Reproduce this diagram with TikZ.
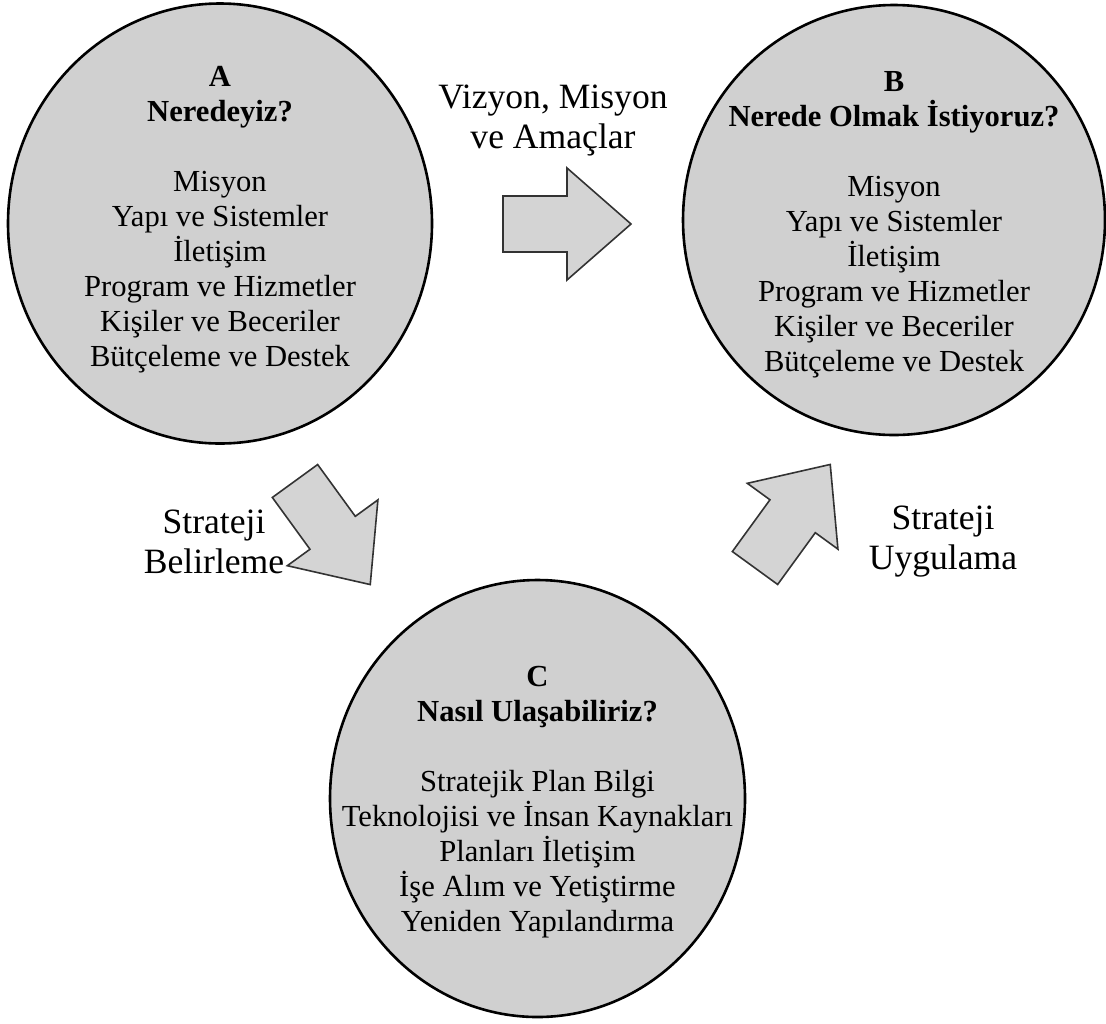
\documentclass[tikz,border=0pt]{standalone}
\usepackage{fontspec}
\setmainfont{Liberation Serif}
\usetikzlibrary{shapes.geometric}

\definecolor{discfill}{gray}{0.815}
\definecolor{arrowfill}{gray}{0.83}

\tikzset{
  disc/.style={ellipse, draw=black, line width=1.3pt, fill=discfill, inner sep=0pt},
  disctext/.style={align=center, inner sep=0pt, font={\fontsize{15.3pt}{17.5pt}\selectfont}},
  steplabel/.style={align=center, inner sep=0pt, font={\fontsize{17.8pt}{20pt}\selectfont}},
  arrowbody/.style={draw=black!80, line width=0.8pt, fill=arrowfill, line join=miter},
  blockarrow/.pic={
    \draw[arrowbody] (0,28) -- (64,28) -- (64,56) -- (128,0) -- (64,-56) -- (64,-28) -- (0,-28) -- cycle;
  }
}

\begin{document}
\begin{tikzpicture}[x=0.5pt, y=-0.5pt]
  \useasboundingbox (0,0) rectangle (1106,1023);

  % the three stages
  \node[disc, minimum width=212pt, minimum height=220pt] (A) at (220,223.5) {};
  \node[disc, minimum width=211pt, minimum height=215pt] (B) at (894,220) {};
  \node[disc, minimum width=207.5pt, minimum height=218.5pt] (C) at (537.5,798.5) {};

  \node[disctext] (Atext) at ([yshift=2pt]A.center)
    {\bfseries A\\\bfseries Neredeyiz?\\[17.5pt]
     Misyon\\Yapı ve Sistemler\\İletişim\\Program ve Hizmetler\\Kişiler ve Beceriler\\Bütçeleme ve Destek};
  \node[disctext] (Btext) at ([yshift=-2.5pt]B.center)
    {\bfseries B\\\bfseries Nerede Olmak İstiyoruz?\\[17.5pt]
     Misyon\\Yapı ve Sistemler\\İletişim\\Program ve Hizmetler\\Kişiler ve Beceriler\\Bütçeleme ve Destek};
  \node[disctext] (Ctext) at ([yshift=-2pt]C.center)
    {\bfseries C\\\bfseries Nasıl Ulaşabiliriz?\\[17.5pt]
     Stratejik Plan Bilgi\\Teknolojisi ve İnsan Kaynakları\\Planları İletişim\\İşe Alım ve Yetiştirme\\Yeniden Yapılandırma};

  % block arrows between the stages
  \pic (arrowAB) at (503,224) {blockarrow};
  \pic[rotate=-54] (arrowAC) at (295,481) {blockarrow};
  \pic[rotate=54] (arrowCB) at (755,568) {blockarrow};

  % arrow captions
  \node[steplabel] (labelAB) at (553,120) {Vizyon, Misyon\\ve Amaçlar};
  \node[steplabel] (labelAC) at (214,542) {Strateji\\Belirleme};
  \node[steplabel] (labelCB) at (943,542) {Strateji\\Uygulama};
\end{tikzpicture}
\end{document}
